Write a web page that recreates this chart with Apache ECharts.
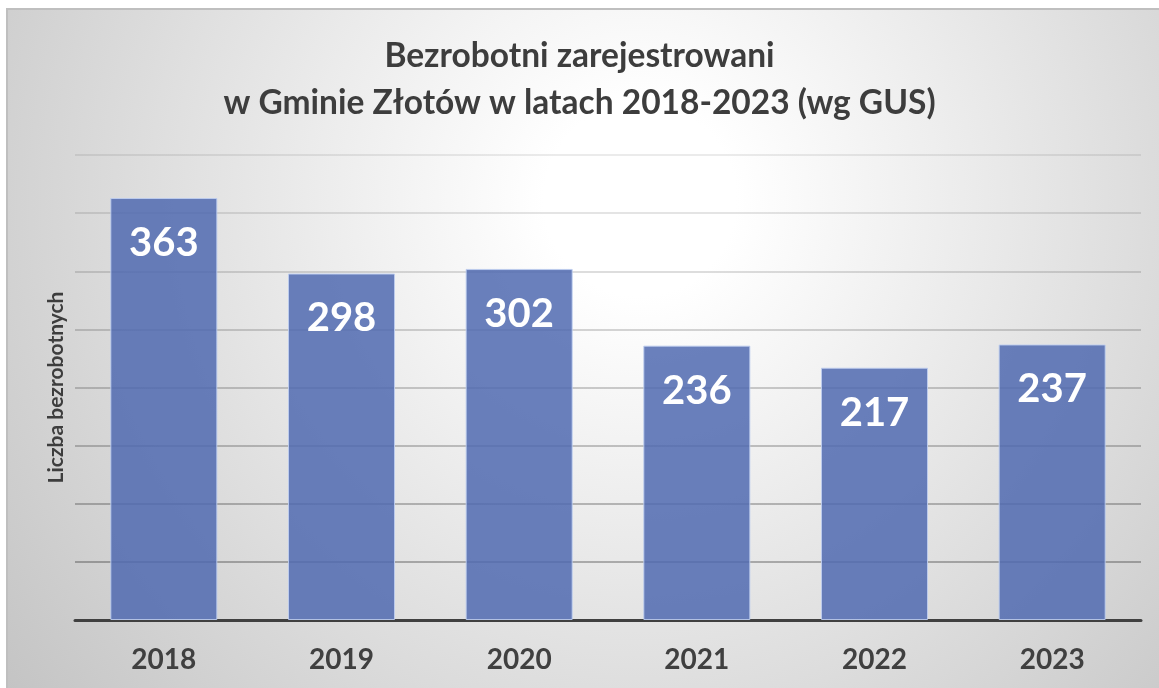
<!DOCTYPE html>
<html lang="pl">
<head>
    <meta charset="UTF-8">
    <title>Bezrobotni zarejestrowani</title>
    <script src="https://cdn.jsdelivr.net/npm/echarts@6/dist/echarts.min.js"></script>
    <style>
        html, body { margin: 0; padding: 0; background: #fff; }
        #chart { width: 1159px; height: 688px; }
    </style>
</head>
<body>
<div id="chart"></div>
<script type="text/javascript">
    // dane z wykresu
    var years = ['2018', '2019', '2020', '2021', '2022', '2023'];
    var unemployed = [363, 298, 302, 236, 217, 237];

    var font = 'Lato';

    var option = {
        animation: false,
        title: {
            text: 'Bezrobotni zarejestrowani\nw Gminie Złotów w latach 2018-2023 (wg GUS)',
            left: 'center',
            top: 28,
            textStyle: {
                fontFamily: font,
                fontWeight: 'bold',
                fontSize: 33.5,
                lineHeight: 47,
                color: '#3d3d3d'
            }
        },
        graphic: [{
            type: 'rect',
            z: -10,
            silent: true,
            shape: { x: 7, y: 9, width: 1170, height: 700 },
            style: {
                fill: {
                    type: 'radial', x: 640, y: 200, r: 800, global: true,
                    colorStops: [
                        { offset: 0, color: '#ffffff' },
                        { offset: 0.12, color: '#ffffff' },
                        { offset: 1, color: '#c4c4c4' }
                    ]
                },
                stroke: '#bfbfbf',
                lineWidth: 2
            }
        }],
        grid: {
            left: 75,
            right: 18,
            top: 155,
            bottom: 68
        },
        xAxis: {
            type: 'category',
            data: years,
            axisTick: { show: false },
            axisLine: { lineStyle: { color: '#404040', width: 3 } },
            axisLabel: {
                margin: 26,
                fontFamily: font,
                fontWeight: 'bold',
                fontSize: 28,
                color: '#404040'
            }
        },
        yAxis: {
            type: 'value',
            min: 0,
            max: 400,
            interval: 50,
            name: 'Liczba bezrobotnych',
            nameLocation: 'middle',
            nameGap: 8,
            nameTextStyle: {
                fontFamily: font,
                fontWeight: 'bold',
                fontSize: 21,
                color: '#3d3d3d'
            },
            axisLabel: { show: false },
            axisTick: { show: false },
            axisLine: { show: false },
            splitLine: {
                lineStyle: {
                    width: 1.5,
                    color: {
                        type: 'linear', x: 0, y: 150, x2: 0, y2: 620, global: true,
                        colorStops: [
                            { offset: 0, color: 'rgba(0,0,0,0.1)' },
                            { offset: 1, color: 'rgba(0,0,0,0.4)' }
                        ]
                    }
                }
            }
        },
        series: [{
            type: 'bar',
            data: unemployed,
            barWidth: 107,
            itemStyle: {
                color: 'rgba(80,106,176,0.85)',
                borderColor: 'rgba(190,205,240,0.9)',
                borderWidth: 1
            },
            label: {
                show: true,
                position: 'insideTop',
                distance: 25,
                fontFamily: font,
                fontWeight: 'bold',
                fontSize: 40,
                color: '#ffffff'
            }
        }]
    };

    var myChart = echarts.init(document.getElementById('chart'));
    myChart.setOption(option);
</script>
</body>
</html>
